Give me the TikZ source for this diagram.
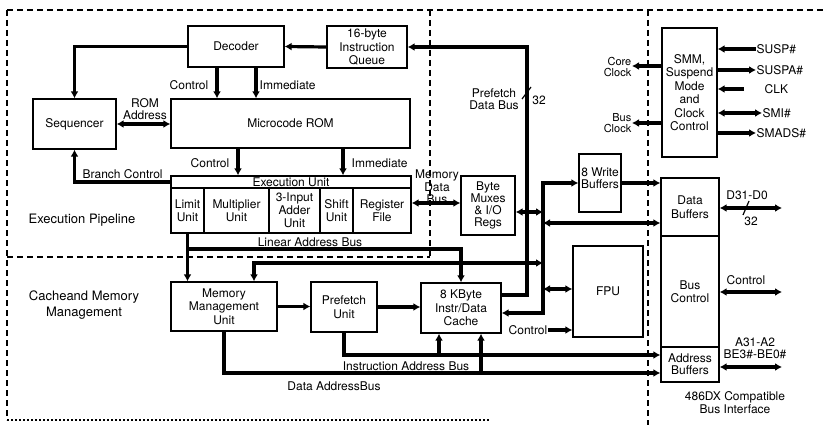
\documentclass[tikz,border=0pt]{standalone}
\usepackage{fontspec}
\setmainfont{TeX Gyre Heros}
\usetikzlibrary{arrows.meta,positioning}

\tikzset{
  blk/.style={draw, line width=1.3pt, inner sep=1pt, align=center, font=\fontsize{12}{13.5}\selectfont},
  txt/.style={inner sep=0.5pt, align=center, font=\fontsize{12}{12.5}\selectfont},
  small/.style={font=\fontsize{11}{11}\selectfont},
  big/.style={font=\fontsize{13}{16}\selectfont},
  bus/.style={line width=3.2pt, >={Latex[length=7pt,width=8pt]}},
  region/.style={line width=1.1pt, dash pattern=on 6pt off 4pt},
  tick/.style={line width=1.2pt},
}

\begin{document}
\begin{tikzpicture}[x=1pt,y=-1pt]
\useasboundingbox (0,0) rectangle (824,425);

% region borders
\draw[region] (7,10) -- (824,10);
\draw[region] (7,10) -- (7,420);
\draw[region, dash pattern=on 2pt off 2pt] (7,420) -- (490,420);
\draw[region] (7,257) -- (430,257);
\draw[region] (430,10) -- (430,257);
\draw[region] (648,10) -- (648,425);

% execution pipeline blocks
\node[blk, minimum width=96, minimum height=41] (dec) at (236,46.5) {Decoder};
\node[blk, minimum width=80, minimum height=42] (queue) at (367,47) {16-byte\\Instruction\\Queue};
\node[blk, minimum width=83, minimum height=50] (seq) at (74.5,124) {Sequencer};
\node[blk, minimum width=239, minimum height=49] (rom) at (290.5,123.5) {Microcode ROM};
\node[blk, minimum width=240, minimum height=57] (exec) at (291,204.5) {};
\node[txt] (exhd) at (291,182) {Execution Unit};
\node[blk, minimum width=33, minimum height=45] (limit) at (187.5,210.5) {Limit\\Unit};
\node[blk, minimum width=65, minimum height=45] (mult) at (236.5,210.5) {Multiplier\\Unit};
\node[blk, minimum width=51, minimum height=45, font=\fontsize{12}{13}\selectfont] (adder) at (294.5,210.5) {3-Input\\Adder\\Unit};
\node[blk, minimum width=33, minimum height=45] (shift) at (336.5,210.5) {Shift\\Unit};
\node[blk, minimum width=58, minimum height=45] (regf) at (382,210.5) {Register\\File};
\node[blk, minimum width=54, minimum height=59, font=\fontsize{12}{12}\selectfont] (mux) at (488,205.5) {Byte\\Muxes\\\& I/O\\Regs};

% cache and memory blocks
\node[blk, minimum width=106, minimum height=49] (mmu) at (224,306.5) {Memory\\Management\\Unit};
\node[blk, minimum width=66, minimum height=50] (pref) at (344,307) {Prefetch\\Unit};
\node[blk, minimum width=80, minimum height=50] (cache) at (461,308) {8 KByte\\Instr/Data\\Cache};
\node[blk, minimum width=70, minimum height=91] (fpu) at (608,291.5) {FPU};
\node[blk, minimum width=42, minimum height=58] (wbuf) at (600,183) {};
\node[txt] (wbuft) at (600,178) {8 Write\\Buffers};

% bus interface blocks
\node[blk, minimum width=55, minimum height=129] (smm) at (689.5,92.5) {SMM,\\Suspend\\Mode\\and\\Clock\\Control};
\node[blk, minimum width=58, minimum height=58] (dbuf) at (690,207) {Data\\Buffers};
\node[blk, minimum width=58, minimum height=111] (bctl) at (690,291.5) {Bus\\Control};
\node[blk, minimum width=58, minimum height=35, font=\fontsize{12}{12}\selectfont] (abuf) at (690,364.5) {Address\\Buffers};

% bus columns and taps
\coordinate (pfb) at (527,47);
\coordinate (mdb) at (543,0);
\coordinate (ctl1) at (217,67);
\coordinate (imm1) at (256,67);
\coordinate (ctl2) at (238,148);
\coordinate (imm2) at (343,148);
\coordinate (iab) at (439,355);
\coordinate (dab) at (481,373);

% decoder, sequencer, microcode
\draw[bus,->] (queue.west) -- (dec.east);
\draw[bus,->] (cache.east |- 0,295) -| (pfb) -- (queue.east);
\draw[bus,->] (dec.west) -| (seq.north);
\draw[bus,<->] (seq.east) -- (seq.east -| rom.west);
\draw[bus,->] (ctl1) -- (ctl1 |- rom.north);
\draw[bus,->] (imm1) -- (imm1 |- rom.north);
\draw[bus,->] (ctl2) -- (ctl2 |- exec.north);
\draw[bus,->] (imm2) -- (imm2 |- exec.north);
\draw[bus,->] (exec.west |- exhd) -| (seq.south);

% address and data buses
\draw[bus,->] (limit.south) -- (limit.south |- mmu.north);
\draw[bus,->] (limit.south |- 0,249) -| (cache.north);
\draw[bus,<->] (mdb |- 0,263) -| ([xshift=30pt]mmu.north);
\draw[bus,<->] (regf.east |- 0,203) -- (mux.west |- 0,203);
\draw[bus,<->] (mux.east |- 0,212) -- (mdb |- 0,212);
\draw[bus,<->] (wbuf.west) -| (mdb |- 0,313) -- (cache.east |- 0,313);
\draw[bus,->] (wbuf.east) -- (wbuf.east -| dbuf.west);
\draw[bus,<->] (dbuf.west |- 0,223) -- (mdb |- 0,223);
\draw[bus,<->] (mdb |- 0,289) -- (fpu.west |- 0,289);
\draw[bus,->] (mmu.east) -- (mmu.east -| pref.west);
\draw[bus,->] (pref.east) -- (pref.east -| cache.west);
\draw[bus,->] (pref.south) |- (abuf.west |- 0,355);
\draw[bus,->] (iab) -- (iab |- cache.south);
\draw[bus,->] (mmu.south) |- (abuf.west |- 0,373);
\draw[bus,->] (dab) -- (dab |- cache.south);

% labels
\node[txt, anchor=east] (ctl1l) at (209,85) {Control};
\node[txt, anchor=west] (imm1l) at (259,85) {Immediate};
\node[txt, anchor=east] (ctl2l) at (230,163) {Control};
\node[txt, anchor=west] (imm2l) at (351,163) {Immediate};
\node[txt, font=\fontsize{12}{11.5}\selectfont] (romadr) at (145,109) {ROM\\Address};
\node[txt, anchor=base west] (brl) at (82,178) {Branch Control};
\node[txt] (labl) at (310,242) {Linear Address Bus};
\node[txt] (mdbl) at (437,187) {Memory\\Data\\Bus};
\node[txt] (pfl) at (494,99) {Prefetch\\Data Bus};
\draw[tick] (522,99) -- (531,87);
\node[txt] (p32) at (539,100) {32};
\node[txt] (iabl) at (406,366) {Instruction Address Bus};
\node[txt] (dabl) at (334,386) {Data AddressBus};
\node[txt, anchor=east] (fctl) at (548,330) {Control};
\draw[bus,->] (fctl.east) -- (fctl.east -| fpu.west);
\node[txt, big, anchor=west] (exp) at (28,220) {Execution Pipeline};
\node[txt, big] (cml) at (84,305) {Cacheand Memory\\Management};

% clocks and SMM pins
\node[txt, small, align=right, anchor=east] (cclk) at (632,67) {Core\\Clock};
\node[txt, small, align=right, anchor=east] (bclk) at (632,123.5) {Bus\\Clock};
\draw[bus,->] (smm.west |- 0,66) -- (cclk.east |- 0,66);
\draw[bus,->] (smm.west |- 0,123) -- (bclk.east |- 0,123);
\node[txt, anchor=west] (susp) at (756,49) {SUSP\#};
\node[txt, anchor=west] (suspa) at (756,70) {SUSPA\#};
\node[txt, anchor=west] (clk) at (764,89) {CLK};
\node[txt, anchor=west] (smi) at (762,113) {SMI\#};
\node[txt, anchor=west] (smads) at (756,133) {SMADS\#};
\draw[bus,->] (susp.west) -- (susp.west -| smm.east);
\draw[bus,->] (smm.east |- suspa) -- (suspa.west);
\draw[bus,->, shorten <=20pt] (clk.west) -- (clk.west -| smm.east);
\draw[bus,<->] (smm.east |- smi) -- (smi.west);
\draw[bus,->] (smm.east |- smads) -- (smads.west);

% external bus pins
\coordinate (dpin) at (782,208);
\coordinate (cpin) at (782,292);
\coordinate (apin) at (782,367);
\draw[bus,<->] (dbuf.east |- dpin) -- (dpin);
\draw[bus,<->] (bctl.east |- cpin) -- (cpin);
\draw[bus,<->] (abuf.east |- apin) -- (apin);
\node[txt] (dlab) at (747,195) {D31-D0};
\draw[tick] (743,215) -- (749,201);
\node[txt] (d32) at (751,221) {32};
\node[txt] (clab) at (746,280) {Control};
\node[txt, font=\fontsize{12}{12}\selectfont] (alab) at (755,348) {A31-A2\\BE3\#-BE0\#};
\node[txt, font=\fontsize{12}{13}\selectfont] (bif) at (735,403) {486DX Compatible\\Bus Interface};

\end{tikzpicture}
\end{document}
